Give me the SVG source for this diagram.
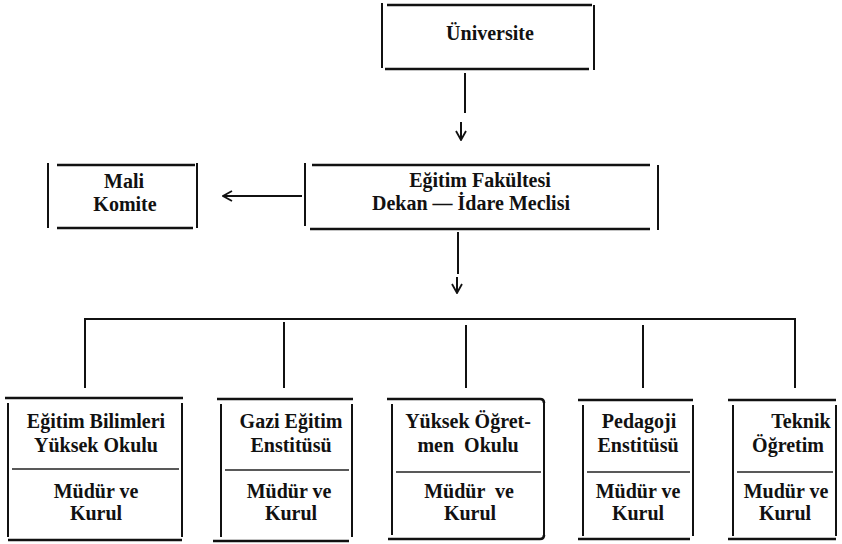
<svg xmlns="http://www.w3.org/2000/svg" width="842" height="544" viewBox="0 0 842 544">
<defs>
<style>
.h{stroke:#111;stroke-width:2.6;fill:none}
.v{stroke:#111;stroke-width:2;fill:none}
.c{stroke:#111;stroke-width:2;fill:none}
.d{stroke:#222;stroke-width:1.4;fill:none}
</style>
<marker id="ah" viewBox="0 0 12 12" refX="11" refY="6" markerWidth="12" markerHeight="12" markerUnits="userSpaceOnUse" orient="auto">
<path d="M2,1 L11,6 L2,11" fill="none" stroke="#111" stroke-width="1.8"/>
</marker>
</defs>
<rect width="842" height="544" fill="#fff"/>

<g id="connectors">
<line class="c" x1="465" y1="73" x2="465" y2="113"/>
<line class="c" x1="461" y1="122" x2="461" y2="140" marker-end="url(#ah)"/>
<line class="c" x1="302" y1="196" x2="223" y2="196" marker-end="url(#ah)"/>
<line class="c" x1="458" y1="232" x2="458" y2="274"/>
<line class="c" x1="457" y1="277" x2="457" y2="293" marker-end="url(#ah)"/>
<line class="c" x1="84" y1="319" x2="796" y2="319"/>
<line class="c" x1="85" y1="319" x2="85" y2="388"/>
<line class="c" x1="284" y1="322" x2="284" y2="388"/>
<line class="c" x1="466" y1="325" x2="466" y2="388"/>
<line class="c" x1="643" y1="325" x2="643" y2="388"/>
<line class="c" x1="795" y1="319" x2="795" y2="388"/>
</g>

<g id="universite">
<line class="v" x1="382" y1="3" x2="382" y2="68"/>
<line class="h" x1="387" y1="5" x2="592" y2="5"/>
<line class="v" x1="594" y1="5" x2="594" y2="70"/>
<line class="h" x1="385" y1="69" x2="589" y2="69"/>
<text x="490" y="40" font-family="Liberation Serif" font-weight="bold" font-size="20" text-anchor="middle" fill="#111" style="font-family:'Liberation Serif',serif !important">Üniversite</text>
</g>

<g id="mali-komite">
<line class="v" x1="48" y1="163" x2="48" y2="228"/>
<line class="h" x1="57" y1="165" x2="195" y2="165"/>
<line class="v" x1="197" y1="163" x2="197" y2="228"/>
<line class="h" x1="57" y1="228" x2="193" y2="228"/>
<text x="124" y="188" font-family="Liberation Serif" font-weight="bold" font-size="20" text-anchor="middle" fill="#111" style="font-family:'Liberation Serif',serif !important">Mali</text>
<text x="125" y="211" font-family="Liberation Serif" font-weight="bold" font-size="20" text-anchor="middle" fill="#111" style="font-family:'Liberation Serif',serif !important">Komite</text>
</g>

<g id="egitim-fakultesi">
<line class="v" x1="305" y1="163" x2="305" y2="226"/>
<line class="h" x1="312" y1="165" x2="650" y2="165"/>
<line class="v" x1="658" y1="165" x2="658" y2="230"/>
<line class="h" x1="310" y1="229" x2="650" y2="229"/>
<text x="480" y="187" font-family="Liberation Serif" font-weight="bold" font-size="20" text-anchor="middle" fill="#111" style="font-family:'Liberation Serif',serif !important">Eğitim Fakültesi</text>
<text x="471" y="210" font-family="Liberation Serif" font-weight="bold" font-size="20" text-anchor="middle" fill="#111" style="font-family:'Liberation Serif',serif !important">Dekan — İdare Meclisi</text>
</g>

<g id="egitim-bilimleri">
<line class="h" x1="5" y1="398" x2="183" y2="398"/>
<line class="v" x1="8" y1="403" x2="8" y2="537"/>
<line class="v" x1="182" y1="403" x2="182" y2="537"/>
<line class="h" x1="8" y1="540" x2="182" y2="540"/>
<line class="d" x1="12" y1="469" x2="179" y2="469"/>
<text x="96" y="428" font-family="Liberation Serif" font-weight="bold" font-size="20" text-anchor="middle" fill="#111" style="font-family:'Liberation Serif',serif !important">Eğitim Bilimleri</text>
<text x="96" y="452" font-family="Liberation Serif" font-weight="bold" font-size="20" text-anchor="middle" fill="#111" style="font-family:'Liberation Serif',serif !important">Yüksek Okulu</text>
<text x="96" y="498" font-family="Liberation Serif" font-weight="bold" font-size="20" text-anchor="middle" fill="#111" style="font-family:'Liberation Serif',serif !important">Müdür ve</text>
<text x="96" y="520" font-family="Liberation Serif" font-weight="bold" font-size="20" text-anchor="middle" fill="#111" style="font-family:'Liberation Serif',serif !important">Kurul</text>
</g>

<g id="gazi-egitim">
<line class="h" x1="217" y1="399" x2="353" y2="399"/>
<line class="v" x1="221" y1="404" x2="221" y2="537"/>
<line class="v" x1="352" y1="404" x2="352" y2="537"/>
<line class="h" x1="213" y1="541" x2="349" y2="541"/>
<line class="d" x1="225" y1="470" x2="349" y2="470"/>
<text x="291" y="428" font-family="Liberation Serif" font-weight="bold" font-size="20" text-anchor="middle" fill="#111" style="font-family:'Liberation Serif',serif !important">Gazi Eğitim</text>
<text x="291" y="452" font-family="Liberation Serif" font-weight="bold" font-size="20" text-anchor="middle" fill="#111" style="font-family:'Liberation Serif',serif !important">Enstitüsü</text>
<text x="289" y="498" font-family="Liberation Serif" font-weight="bold" font-size="20" text-anchor="middle" fill="#111" style="font-family:'Liberation Serif',serif !important">Müdür ve</text>
<text x="291" y="520" font-family="Liberation Serif" font-weight="bold" font-size="20" text-anchor="middle" fill="#111" style="font-family:'Liberation Serif',serif !important">Kurul</text>
</g>

<g id="yuksek-ogretmen">
<path class="h" d="M387,399 H540 Q544,399 544,403"/>
<line class="v" x1="392" y1="404" x2="392" y2="535"/>
<line class="v" x1="544" y1="403" x2="544" y2="535"/>
<path class="h" d="M388,539 H540 Q544,539 544,535"/>
<line class="d" x1="396" y1="472" x2="541" y2="472"/>
<text x="468" y="428" font-family="Liberation Serif" font-weight="bold" font-size="20" text-anchor="middle" fill="#111" style="font-family:'Liberation Serif',serif !important">Yüksek Öğret-</text>
<text x="468" y="452" font-family="Liberation Serif" font-weight="bold" font-size="20" text-anchor="middle" fill="#111" style="font-family:'Liberation Serif',serif !important" xml:space="preserve">men  Okulu</text>
<text x="469" y="498" font-family="Liberation Serif" font-weight="bold" font-size="20" text-anchor="middle" fill="#111" style="font-family:'Liberation Serif',serif !important" xml:space="preserve">Müdür  ve</text>
<text x="470" y="520" font-family="Liberation Serif" font-weight="bold" font-size="20" text-anchor="middle" fill="#111" style="font-family:'Liberation Serif',serif !important">Kurul</text>
</g>

<g id="pedagoji">
<line class="h" x1="578" y1="400" x2="693" y2="400"/>
<line class="v" x1="583" y1="405" x2="583" y2="536"/>
<line class="v" x1="693" y1="405" x2="693" y2="536"/>
<line class="h" x1="578" y1="539" x2="690" y2="539"/>
<line class="d" x1="587" y1="472" x2="690" y2="472"/>
<text x="639" y="428" font-family="Liberation Serif" font-weight="bold" font-size="20" text-anchor="middle" fill="#111" style="font-family:'Liberation Serif',serif !important">Pedagoji</text>
<text x="638" y="452" font-family="Liberation Serif" font-weight="bold" font-size="20" text-anchor="middle" fill="#111" style="font-family:'Liberation Serif',serif !important">Enstitüsü</text>
<text x="638" y="498" font-family="Liberation Serif" font-weight="bold" font-size="20" text-anchor="middle" fill="#111" style="font-family:'Liberation Serif',serif !important">Müdür ve</text>
<text x="638" y="520" font-family="Liberation Serif" font-weight="bold" font-size="20" text-anchor="middle" fill="#111" style="font-family:'Liberation Serif',serif !important">Kurul</text>
</g>

<g id="teknik-ogretim">
<line class="h" x1="728" y1="400" x2="836" y2="400"/>
<line class="v" x1="733" y1="405" x2="733" y2="536"/>
<line class="v" x1="836" y1="405" x2="836" y2="536"/>
<line class="h" x1="728" y1="539" x2="836" y2="539"/>
<line class="d" x1="737" y1="472" x2="833" y2="472"/>
<text x="801" y="428" font-family="Liberation Serif" font-weight="bold" font-size="20" text-anchor="middle" fill="#111" style="font-family:'Liberation Serif',serif !important">Teknik</text>
<text x="788" y="452" font-family="Liberation Serif" font-weight="bold" font-size="20" text-anchor="middle" fill="#111" style="font-family:'Liberation Serif',serif !important">Öğretim</text>
<text x="786" y="498" font-family="Liberation Serif" font-weight="bold" font-size="20" text-anchor="middle" fill="#111" style="font-family:'Liberation Serif',serif !important">Mudür ve</text>
<text x="785" y="520" font-family="Liberation Serif" font-weight="bold" font-size="20" text-anchor="middle" fill="#111" style="font-family:'Liberation Serif',serif !important">Kurul</text>
</g>
</svg>
